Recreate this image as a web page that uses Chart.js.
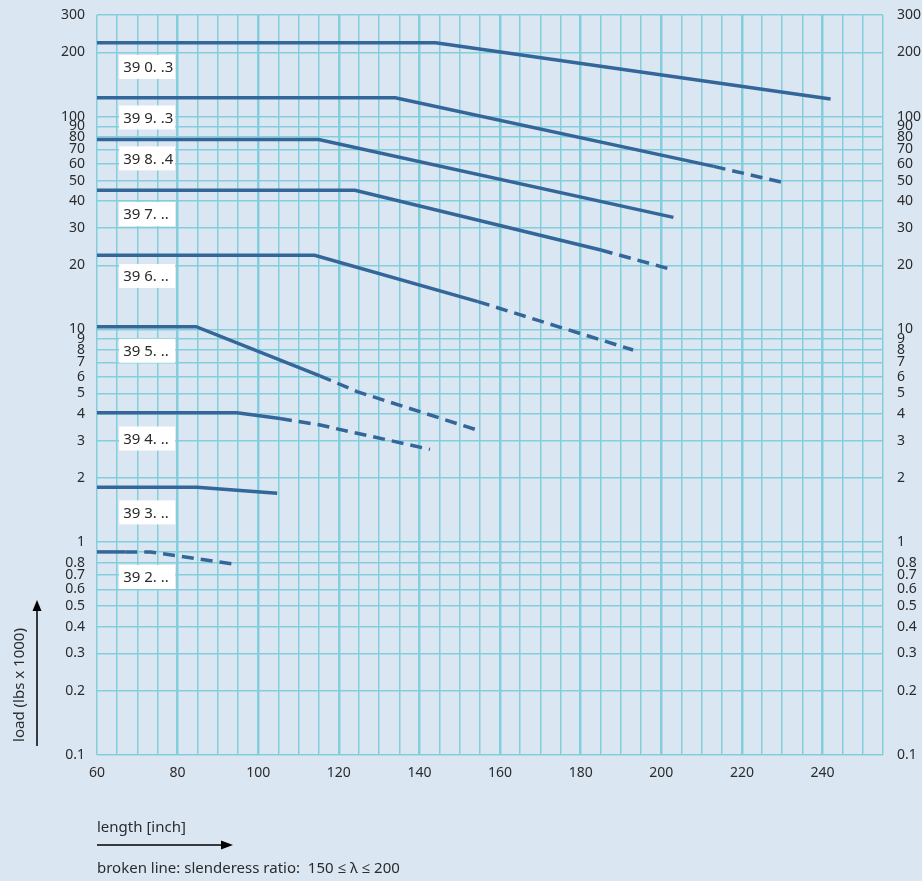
<!DOCTYPE html>
<html>
<head>
<meta charset="utf-8">
<script src="https://cdn.jsdelivr.net/npm/chart.js@4/dist/chart.umd.min.js"></script>
<style>
  html, body { margin: 0; padding: 0; background: #dbe6f3; }
  #wrap { width: 922px; height: 881px; }
</style>
</head>
<body>
<div id="wrap"><canvas id="loadChart" width="922" height="881"></canvas></div>
<script>
"use strict";

// series names (label boxes)
const seriesNames = ["39 0. .3", "39 9. .3", "39 8. .4", "39 7. ..", "39 6. ..", "39 5. ..", "39 4. ..", "39 3. ..", "39 2. .."];

// length [inch] for each point of each series
const lengths0 = [60, 144, 242];
const lengths9 = [60, 134, 213, 231];
const lengths8 = [60, 115, 203];
const lengths7 = [60, 124, 185, 203];
const lengths6 = [60, 114, 154.5, 193];
const lengths5 = [60, 84.6, 115.3, 124.5, 154];
const lengths4 = [60, 94.7, 105.4, 114.8, 142.6];
const lengths3 = [60, 84.8, 104.7];
const lengths2 = [60, 67, 73.2, 93.7];

// load (lbs x 1000)
const loads0 = [222, 222, 121];
const loads9 = [122.5, 122.5, 58.3, 48.6];
const loads8 = [78, 78, 33.6];
const loads7 = [45, 45, 23.6, 19.0];
const loads6 = [22.3, 22.3, 13.5, 8.0];
const loads5 = [10.3, 10.3, 6.05, 5.1, 3.38];
const loads4 = [4.06, 4.06, 3.81, 3.57, 2.73];
const loads3 = [1.81, 1.81, 1.70];
const loads2 = [0.9, 0.9, 0.9, 0.79];

// index of the first point where the broken line (150 <= lambda <= 200) starts, -1 = none
const dashFrom = [-1, 2, -1, 2, 2, 2, 2, -1, 1];

// load value where each name box sits
const nameLoads = [171, 99, 63.6, 34.8, 17.8, 7.93, 3.07, 1.38, 0.686];

// axis ticks
const xMin = 60, xMax = 255, xStep = 5;
const xLabels = [60, 80, 100, 120, 140, 160, 180, 200, 220, 240];
const yTicks = [0.1, 0.2, 0.3, 0.4, 0.5, 0.6, 0.7, 0.8, 0.9, 1, 2, 3, 4, 5, 6, 7, 8, 9, 10,
  20, 30, 40, 50, 60, 70, 80, 90, 100, 200, 300];
const yLabels = [0.1, 0.2, 0.3, 0.4, 0.5, 0.6, 0.7, 0.8, 1, 2, 3, 4, 5, 6, 7, 8, 9, 10,
  20, 30, 40, 50, 60, 70, 80, 90, 100, 200, 300];

const allLengths = [lengths0, lengths9, lengths8, lengths7, lengths6, lengths5, lengths4, lengths3, lengths2];
const allLoads = [loads0, loads9, loads8, loads7, loads6, loads5, loads4, loads3, loads2];

const lineColor = "#336699";
const gridColor = "#84cedc";
const textColor = "#2b2b2b";
const fontFamily = "'Noto Sans', 'Open Sans', sans-serif";

let datasets = [];
for (let i = 0; i < seriesNames.length; i++) {
  let pts = [];
  for (let j = 0; j < allLengths[i].length; j++) {
    pts.push({ x: allLengths[i][j], y: allLoads[i][j] });
  }
  let start = dashFrom[i];
  datasets.push({
    label: seriesNames[i],
    data: pts,
    borderColor: lineColor,
    borderWidth: 3.5,
    pointRadius: 0,
    tension: 0,
    fill: false,
    segment: {
      borderDash: ctx => (start >= 0 && ctx.p0DataIndex >= start) ? [12, 7] : undefined
    }
  });
}

// white name boxes + axis titles / arrows / footnote
const extrasPlugin = {
  id: "extras",
  afterDatasetsDraw(chart) {
    let ctx = chart.ctx;
    let xs = chart.scales.x;
    let ys = chart.scales.y;
    ctx.save();
    ctx.font = "15px " + fontFamily;
    ctx.textBaseline = "middle";
    ctx.textAlign = "left";
    for (let i = 0; i < seriesNames.length; i++) {
      let left = xs.getPixelForValue(65.5);
      let cy = ys.getPixelForValue(nameLoads[i]);
      ctx.fillStyle = "#ffffff";
      ctx.fillRect(left, cy - 12, 56, 24);
      ctx.fillStyle = textColor;
      ctx.fillText(seriesNames[i], left + 4, cy + 1);
    }
    ctx.restore();
  },
  afterDraw(chart) {
    let ctx = chart.ctx;
    let area = chart.chartArea;
    ctx.save();
    ctx.fillStyle = textColor;
    ctx.strokeStyle = "#000000";
    ctx.font = "15px " + fontFamily;

    // y title
    ctx.save();
    ctx.translate(20, area.bottom - 70);
    ctx.rotate(-Math.PI / 2);
    ctx.textAlign = "center";
    ctx.textBaseline = "middle";
    ctx.fillText("load (lbs x 1000)", 0, 0);
    ctx.restore();

    // y arrow
    ctx.lineWidth = 1.5;
    ctx.beginPath();
    ctx.moveTo(37, area.bottom - 9);
    ctx.lineTo(37, area.bottom - 148);
    ctx.stroke();
    ctx.fillStyle = "#000000";
    ctx.beginPath();
    ctx.moveTo(37, area.bottom - 155);
    ctx.lineTo(32.5, area.bottom - 144);
    ctx.lineTo(41.5, area.bottom - 144);
    ctx.closePath();
    ctx.fill();

    // x title
    ctx.fillStyle = textColor;
    ctx.textAlign = "left";
    ctx.textBaseline = "middle";
    ctx.fillText("length [inch]", area.left, area.bottom + 73);

    // x arrow
    ctx.beginPath();
    ctx.moveTo(area.left, area.bottom + 90);
    ctx.lineTo(area.left + 128, area.bottom + 90);
    ctx.stroke();
    ctx.fillStyle = "#000000";
    ctx.beginPath();
    ctx.moveTo(area.left + 136, area.bottom + 90);
    ctx.lineTo(area.left + 124, area.bottom + 85.5);
    ctx.lineTo(area.left + 124, area.bottom + 94.5);
    ctx.closePath();
    ctx.fill();

    // footnote
    ctx.fillStyle = textColor;
    ctx.fillText("broken line: slenderess ratio:  150 \u2264 \u03bb \u2264 200", area.left, area.bottom + 114);
    ctx.restore();
  }
};

let yLabelCb = v => yLabels.includes(v) ? String(v) : "";
let setYTicks = scale => { scale.ticks = yTicks.map(v => ({ value: v })); };
let fitY = w => s => { s.width = w; s.paddingTop = 0; s.paddingBottom = 0; };

let chart = document.querySelector("#loadChart");
let loadChart = new Chart(chart, {
  type: "line",
  data: { datasets: datasets },
  options: {
    responsive: false,
    animation: false,
    layout: { padding: { top: 15, left: 0, right: 0, bottom: 0 } },
    plugins: {
      legend: { display: false },
      tooltip: { enabled: false }
    },
    scales: {
      x: {
        type: "linear",
        min: xMin,
        max: xMax,
        afterFit: s => { s.height = 126; s.paddingLeft = 0; s.paddingRight = 0; },
        afterBuildTicks: s => {
          let t = [];
          for (let v = xMin; v <= xMax; v += xStep) t.push({ value: v });
          s.ticks = t;
        },
        ticks: {
          autoSkip: false,
          maxRotation: 0,
          padding: 10,
          color: textColor,
          font: { family: fontFamily, size: 14 },
          callback: v => xLabels.includes(v) ? String(v) : ""
        },
        grid: {
          color: gridColor,
          drawTicks: false,
          lineWidth: c => (c.tick && c.tick.value % 20 === 0 && c.tick.value !== xMin) ? 2.5 : 1.5
        },
        border: { display: false }
      },
      y: {
        type: "logarithmic",
        position: "left",
        min: 0.1,
        max: 300,
        afterFit: fitY(97),
        afterBuildTicks: setYTicks,
        ticks: {
          autoSkip: false,
          padding: 12,
          color: textColor,
          font: { family: fontFamily, size: 14, lineHeight: 1 },
          callback: yLabelCb
        },
        grid: { color: gridColor, lineWidth: 1.5, drawTicks: false },
        border: { display: false }
      },
      y2: {
        type: "logarithmic",
        position: "right",
        min: 0.1,
        max: 300,
        afterFit: fitY(39),
        afterBuildTicks: setYTicks,
        ticks: {
          autoSkip: false,
          padding: 14,
          color: textColor,
          font: { family: fontFamily, size: 14, lineHeight: 1 },
          callback: yLabelCb
        },
        grid: { display: false, drawTicks: false },
        border: { display: false }
      }
    }
  },
  plugins: [extrasPlugin]
});
</script>
</body>
</html>
